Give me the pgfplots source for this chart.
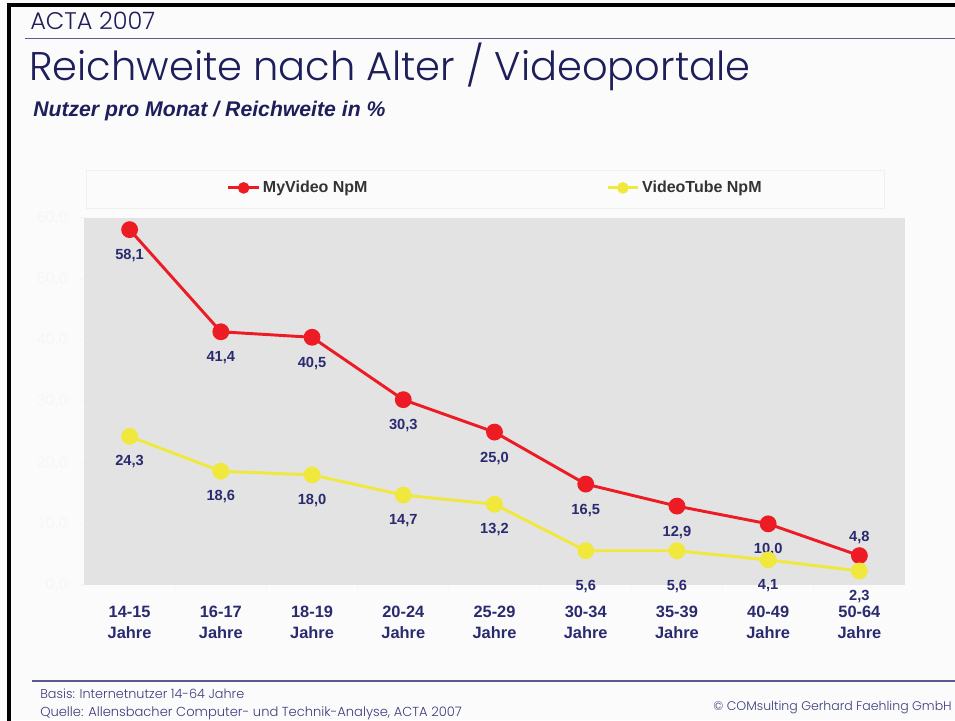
\documentclass[border=0pt]{standalone}
\usepackage{pgfplots}
\pgfplotsset{compat=1.18}
\usepackage{pgfplotstable}
\usepackage{fontspec}
\setmainfont{Liberation Sans}
\newfontfamily\gothic{Poppins Light}
\definecolor{myred}{RGB}{237,28,36}
\definecolor{myyellow}{RGB}{240,232,60}
\definecolor{navy}{RGB}{42,42,112}
\definecolor{titlenavy}{RGB}{30,30,90}
\definecolor{footnavy}{RGB}{60,60,125}
\definecolor{rulecol}{RGB}{90,90,140}
\definecolor{bg}{RGB}{251,251,251}
\definecolor{plotbg}{RGB}{227,227,227}
\definecolor{legtext}{RGB}{51,51,51}
\definecolor{tickwhite}{RGB}{246,246,246}

\pgfplotstableread{
x y dy lbl
0 58.1 -19.5 58,1
1 41.4 -19.5 41,4
2 40.5 -19.5 40,5
3 30.3 -19.5 30,3
4 25.0 -19.5 25,0
5 16.5 -19.5 16,5
6 12.9 -19.5 12,9
7 10.0 -19.5 10,0
8 4.8 13.5 4,8
}\myvideo

\pgfplotstableread{
x y dy lbl
0 24.3 -19 24,3
1 18.6 -19 18,6
2 18.0 -19 18,0
3 14.7 -19 14,7
4 13.2 -19 13,2
5 5.6 -26.5 5,6
6 5.6 -26.5 5,6
7 4.1 -19 4,1
8 2.3 -19 2,3
}\videotube

\begin{document}
\begin{tikzpicture}
\begin{scope}[x=0.75pt,y=-0.75pt]
\fill[bg] (0,0) rectangle (955,720);
\useasboundingbox (0,0) rectangle (955,720);
\draw[black, line width=2.4pt] (7,5) -- (960,5);
\draw[black, line width=2.4pt] (9,3) -- (9,725);
\draw[rulecol, line width=1pt] (25,38.5) -- (960,38.5);
\draw[rulecol, line width=1pt] (32,681) -- (960,681);
\node[anchor=base west, inner sep=0, text=titlenavy, font=\gothic\fontsize{18}{20}\selectfont] at (30,30) {ACTA 2007};
\node[anchor=base west, inner sep=0, text=titlenavy, font=\gothic\fontsize{30}{34}\selectfont] at (29,81) {Reichweite nach Alter / Videoportale};
\node[anchor=base west, inner sep=0, text=titlenavy, font=\bfseries\itshape\fontsize{15.9}{18}\selectfont] at (33,117) {Nutzer pro Monat / Reichweite in \%};
\node[anchor=base west, inner sep=0, text=footnavy, font=\gothic\fontsize{9.6}{12}\selectfont] at (40,698) {Basis: Internetnutzer 14-64 Jahre};
\node[anchor=base west, inner sep=0, text=footnavy, font=\gothic\fontsize{9.8}{12}\selectfont] at (40,716) {Quelle: Allensbacher Computer- und Technik-Analyse, ACTA 2007};
\node[anchor=base east, inner sep=0, text=footnavy, font=\gothic\fontsize{9.4}{12}\selectfont] at (952,710) {© COMsulting Gerhard Faehling GmbH};
\draw[black!6, line width=0.6pt] (86,170) rectangle (884,208);
\end{scope}
\begin{axis}[
  at={(63pt,-438.75pt)}, anchor=south west,
  scale only axis, width=615.75pt, height=275.25pt,
  xmin=-0.5, xmax=8.5, ymin=0, ymax=60,
  clip=false,
  axis background/.style={fill=plotbg},
  axis line style={draw=none},
  xtick={0,...,8},
  xticklabels={{14-15\\Jahre},{16-17\\Jahre},{18-19\\Jahre},{20-24\\Jahre},{25-29\\Jahre},{30-34\\Jahre},{35-39\\Jahre},{40-49\\Jahre},{50-64\\Jahre}},
  xticklabel style={align=center, font=\bfseries\fontsize{12.3}{15.75}\selectfont, text=navy, yshift=-8.5pt},
  major x tick style={draw=none},
  minor xtick={0.5,1.5,...,7.5},
  minor x tick style={tickwhite, line width=0.8pt},
  minor tick length=4pt,
  xtick pos=bottom, ytick pos=left,
  tick align=outside,
  ytick={0,10,...,60},
  major tick length=4pt,
  y tick style={tickwhite, line width=0.8pt},
  yticklabel style={text=tickwhite, font=\fontsize{11.5}{13}\selectfont, xshift=-5pt},
  /pgf/number format/.cd, use comma, fixed, fixed zerofill, precision=1, assume math mode=true,
  /pgfplots/.cd,
  legend columns=2,
  legend style={at={(0.169,1.082)}, anchor=west, draw=none, fill=none,
    font=\bfseries\fontsize{12}{14}\selectfont, text=legtext,
    /tikz/every even column/.append style={column sep=177pt}},
  legend image code/.code={
    \draw[#1,mark=none] (0cm,0cm) -- (0.8cm,0cm);
    \draw[#1,mark size=3.2pt] plot coordinates {(0.4cm,0cm)};
  },
]
\addplot[myred, line width=2.2pt, mark=*, mark size=5.2pt, mark options={solid, fill=myred, draw=myred},
  nodes near coords, point meta=explicit symbolic,
  visualization depends on={\thisrow{dy} \as \dy},
  every node near coord/.append style={anchor=center, yshift=\dy pt, font=\bfseries\fontsize{11}{13}\selectfont, text=navy}
] table[x=x, y=y, meta=lbl] {\myvideo};
\addlegendentry{MyVideo NpM}
\addplot[myyellow, line width=2.2pt, mark=*, mark size=5.2pt, mark options={solid, fill=myyellow, draw=myyellow},
  nodes near coords, point meta=explicit symbolic,
  visualization depends on={\thisrow{dy} \as \dy},
  every node near coord/.append style={anchor=center, yshift=\dy pt, font=\bfseries\fontsize{11}{13}\selectfont, text=navy}
] table[x=x, y=y, meta=lbl] {\videotube};
\addlegendentry{VideoTube NpM}
\end{axis}
\end{tikzpicture}
\end{document}
